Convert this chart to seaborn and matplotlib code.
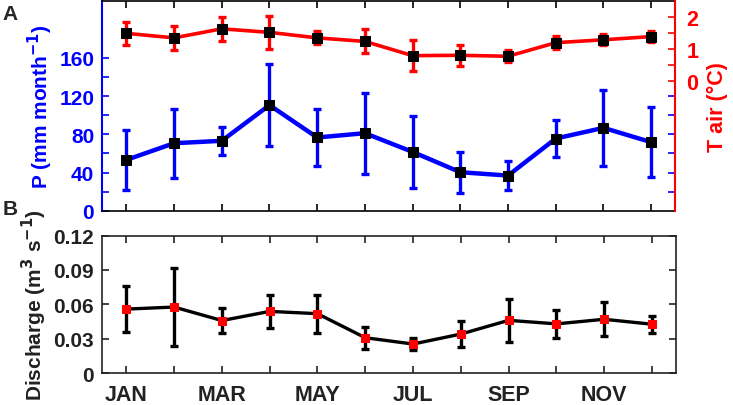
import matplotlib
matplotlib.use("Agg")
import matplotlib.pyplot as plt
import seaborn as sns
import numpy as np
import pandas as pd

# ---- data ----
months = list(range(1, 13))
month_labels = ["JAN", "", "MAR", "", "MAY", "", "JUL", "", "SEP", "", "NOV", ""]

precip = [53.2, 70.7, 73.2, 110.6, 76.7, 81.2, 61.6, 40.3, 36.8, 75.6, 86.8, 71.8]
precip_err = [31.5, 36.0, 15.0, 42.7, 30.0, 42.3, 38.0, 21.5, 15.4, 19.8, 39.7, 37.0]

tair = [1.49, 1.35, 1.63, 1.52, 1.35, 1.24, 0.80, 0.81, 0.78, 1.20, 1.29, 1.39]
tair_err = [0.36, 0.37, 0.38, 0.50, 0.20, 0.37, 0.47, 0.32, 0.19, 0.20, 0.17, 0.17]

discharge = [0.0558, 0.0576, 0.0458, 0.0538, 0.0518, 0.0308, 0.0253, 0.0340,
             0.0460, 0.0429, 0.0469, 0.0426]
discharge_err = [0.0200, 0.0340, 0.0110, 0.0147, 0.0167, 0.0095, 0.0055, 0.0110,
                 0.0187, 0.0124, 0.0150, 0.0074]

p_ticks = [0, 20, 40, 60, 80, 100, 120, 140, 160]
p_ticklabels = ["0", "", "40", "", "80", "", "120", "", "160"]
p_right_ticks = [20, 40, 60, 80, 100, 120]
t_ticks = [0, 0.5, 1, 1.5, 2]
t_ticklabels = ["0", "", "1", "", "2"]
q_ticks = [0, 0.03, 0.06, 0.09, 0.12]
q_ticklabels = ["0", "0.03", "0.06", "0.09", "0.12"]

df = pd.DataFrame({"month": months, "P": precip, "T": tair, "Q": discharge})

sns.set_theme(style="ticks")
plt.rcParams["font.family"] = ["Liberation Sans", "DejaVu Sans"]
plt.rcParams["font.weight"] = "bold"
plt.rcParams["axes.labelweight"] = "bold"
plt.rcParams["mathtext.default"] = "bf"

BLUE = "#0000ff"
RED = "#ff0000"
DARK = "#222222"
FS = 15

fig = plt.figure(figsize=(7.33, 4.06), dpi=100)
ax1 = fig.add_axes([0.1398, 0.4786, 0.7811, 0.5172])
ax_b = fig.add_axes([0.1398, 0.0788, 0.7822, 0.3385])

# ---------- Panel A ----------
ax1.errorbar(df["month"], df["P"], yerr=precip_err, fmt="none", ecolor=BLUE,
             elinewidth=2.4, capsize=3, capthick=2.4, zorder=2)
sns.lineplot(data=df, x="month", y="P", ax=ax1, color=BLUE, linewidth=3.2,
             marker="s", markersize=6.5, markerfacecolor="black",
             markeredgecolor="black", zorder=3)
ax1.set_xlim(0.5, 12.5)
ax1.set_ylim(0, 220)
ax1.set_yticks(p_ticks)
ax1.set_yticklabels(p_ticklabels)
ax1.set_xticks(months)
ax1.set_xticklabels([])
ax1.set_xlabel("")
ax1.set_ylabel("P (mm month$^{-1}$)", color=BLUE, fontsize=FS,
               fontweight="bold", labelpad=3)
ax1.tick_params(axis="y", colors=BLUE, direction="in", length=5, width=1.2,
                labelsize=FS, pad=6, right=False)
ax1.tick_params(axis="x", direction="in", length=5, width=1.2, top=True,
                bottom=True, colors="black")
for lab in ax1.get_yticklabels():
    lab.set_fontweight("bold")
ax1.spines["left"].set_color(BLUE)
ax1.spines["left"].set_linewidth(1.5)
ax1.spines["top"].set_color("black")
ax1.spines["bottom"].set_color("black")
for s in ["top", "bottom"]:
    ax1.spines[s].set_linewidth(1.2)

# blue mirrored ticks on right
ax3 = ax1.twinx()
ax3.set_ylim(0, 220)
ax3.set_yticks(p_right_ticks)
ax3.set_yticklabels([])
ax3.tick_params(axis="y", colors=BLUE, direction="in", length=5, width=1.2)
for s in ax3.spines.values():
    s.set_visible(False)

ax2 = ax1.twinx()
ax2.errorbar(df["month"], df["T"], yerr=tair_err, fmt="none", ecolor=RED,
             elinewidth=2.4, capsize=3, capthick=2.4, zorder=2)
sns.lineplot(data=df, x="month", y="T", ax=ax2, color=RED, linewidth=2.6,
             marker="s", markersize=6.5, markerfacecolor="black",
             markeredgecolor="black", zorder=3)
ax2.set_ylim(-4, 2.5)
ax2.set_yticks(t_ticks)
ax2.set_yticklabels(t_ticklabels)
ax2.set_ylabel("T air (°C)", color=RED, fontsize=FS + 0.5, fontweight="bold",
               labelpad=6)
ax2.tick_params(axis="y", colors=RED, direction="in", length=5, width=1.2,
                labelsize=FS + 0.5, pad=8)
for lab in ax2.get_yticklabels():
    lab.set_fontweight("bold")
ax2.spines["right"].set_color(RED)
ax2.spines["right"].set_linewidth(1.5)
ax2.spines["left"].set_visible(False)
ax2.spines["top"].set_visible(False)
ax2.spines["bottom"].set_visible(False)
ax2.set_xlim(0.5, 12.5)

# ---------- Panel B ----------
ax_b.errorbar(df["month"], df["Q"], yerr=discharge_err, fmt="none",
              ecolor="black", elinewidth=2.4, capsize=3, capthick=2.4, zorder=2)
sns.lineplot(data=df, x="month", y="Q", ax=ax_b, color="black", linewidth=2.4,
             marker="s", markersize=6, markerfacecolor=RED,
             markeredgecolor=RED, zorder=3)
ax_b.set_xlim(0.5, 12.5)
ax_b.set_ylim(0, 0.12)
ax_b.set_yticks(q_ticks)
ax_b.set_yticklabels(q_ticklabels)
ax_b.set_xticks(months)
ax_b.set_xticklabels(month_labels)
ax_b.set_xlabel("")
ax_b.set_ylabel("Discharge (m$^{3}$ s$^{-1}$)", fontsize=FS,
                fontweight="bold", color=DARK, labelpad=3)
ax_b.tick_params(axis="both", direction="in", length=5, width=1.2,
                 labelsize=FS, top=True, right=True, colors=DARK)
ax_b.tick_params(axis="y", pad=6)
ax_b.tick_params(axis="x", pad=8, labelsize=FS + 0.5)
for lab in ax_b.get_xticklabels() + ax_b.get_yticklabels():
    lab.set_fontweight("bold")
for s in ax_b.spines.values():
    s.set_visible(True)
    s.set_color(DARK)
    s.set_linewidth(1.2)

# panel letters
fig.text(0.003, 0.9655, "A", fontsize=15, fontweight="bold", ha="left", va="center")
fig.text(0.003, 0.484, "B", fontsize=15, fontweight="bold", ha="left", va="center")

fig.savefig("out.png", dpi=100)
